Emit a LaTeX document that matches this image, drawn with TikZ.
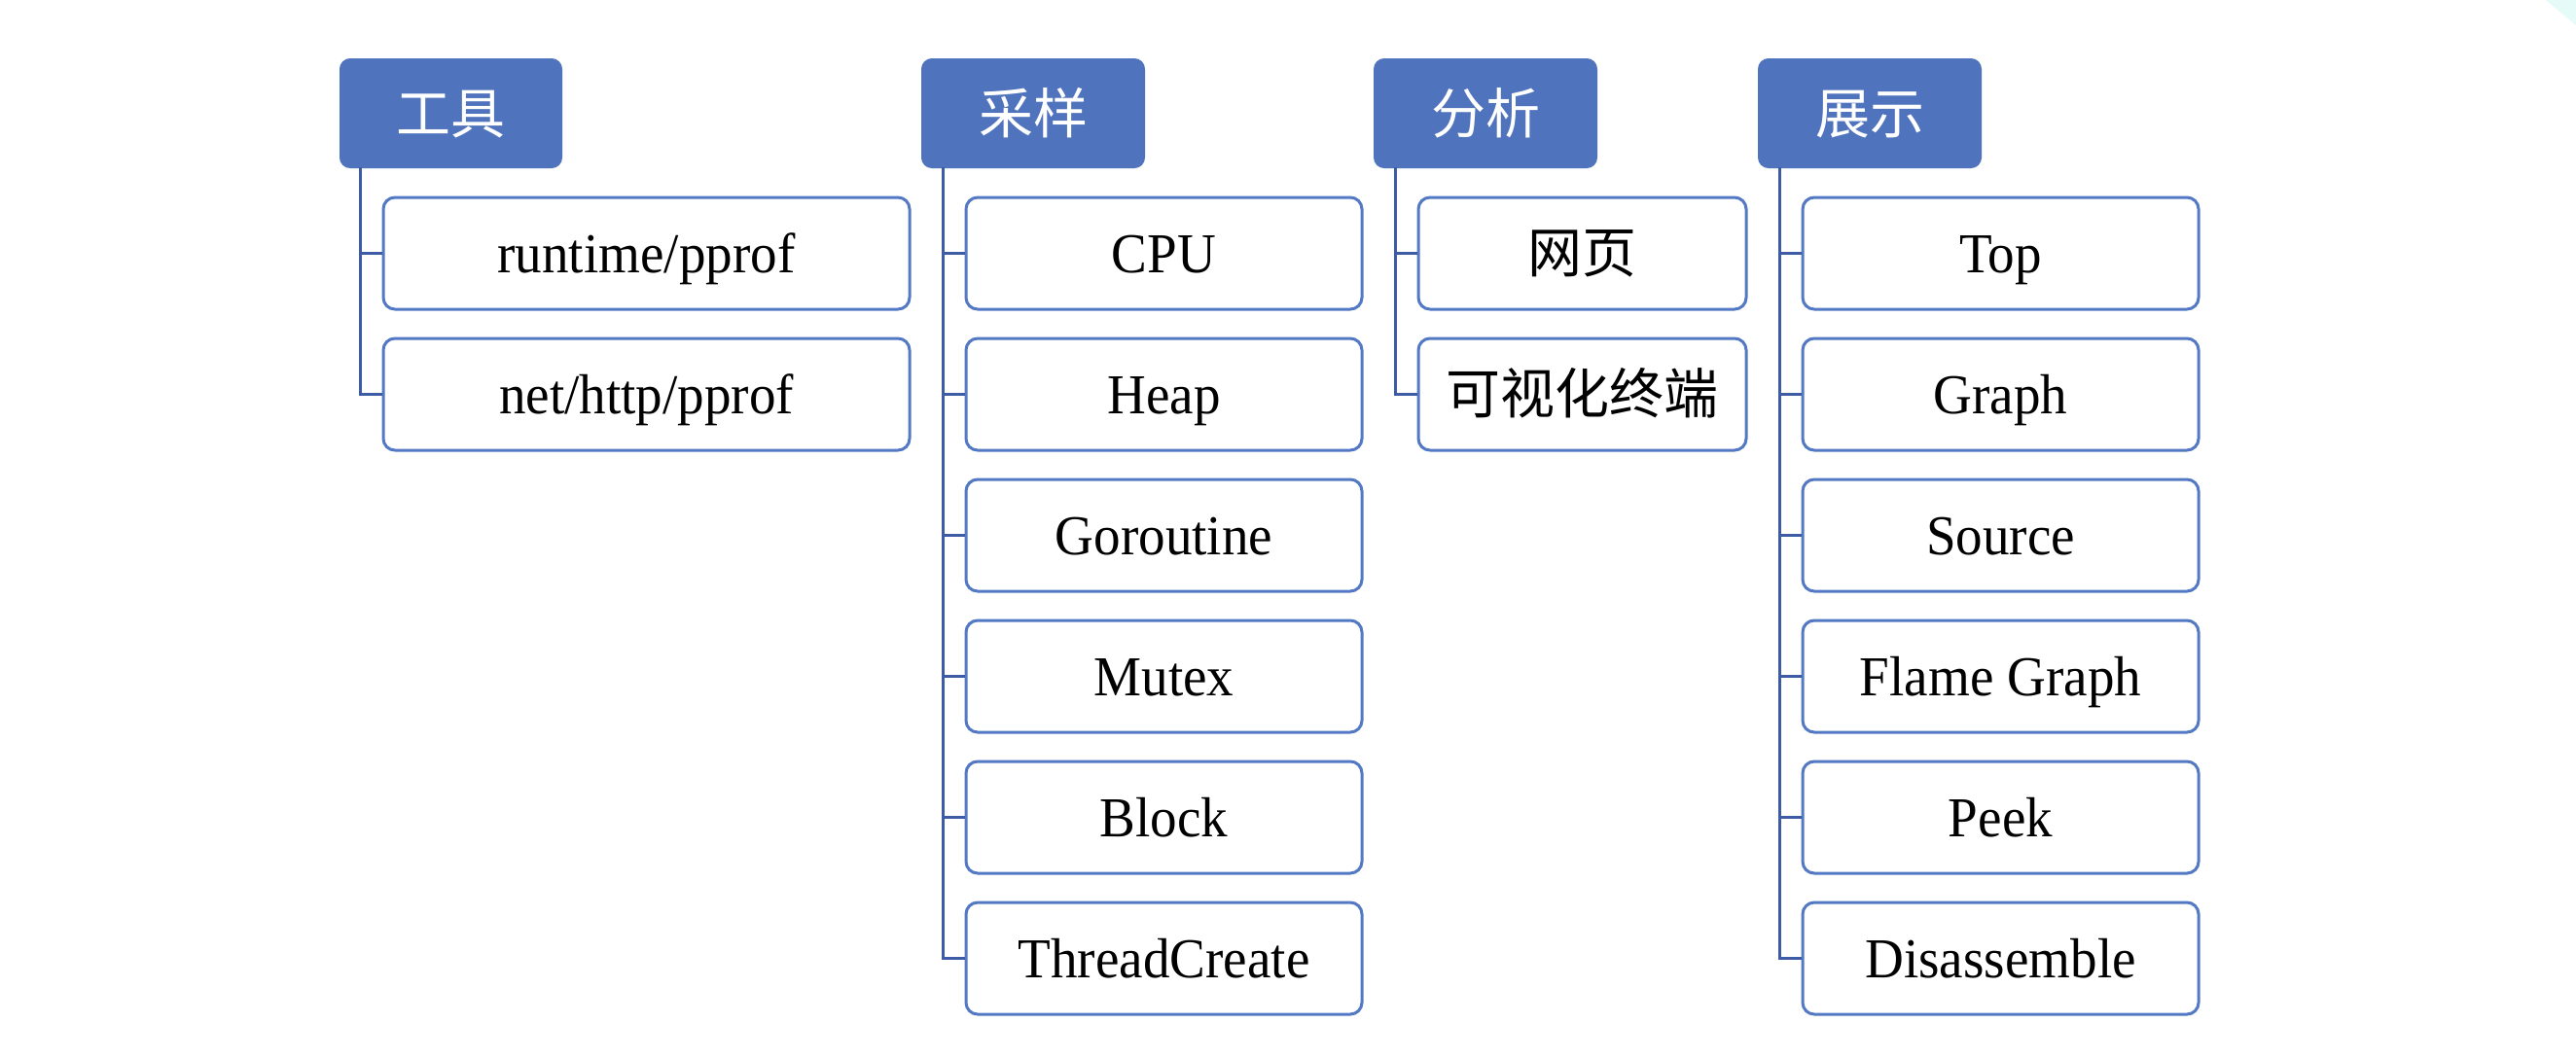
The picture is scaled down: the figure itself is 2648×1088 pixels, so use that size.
\documentclass[tikz,border=0pt]{standalone}
\usepackage{fontspec}
\setmainfont[FakeStretch=0.95]{Liberation Serif}
\newfontfamily\cjk{Noto Sans CJK SC}
\definecolor{hdrfill}{HTML}{4F73BD}
\definecolor{boxline}{HTML}{5479C4}
\definecolor{treeline}{HTML}{3E5CA5}
\definecolor{cornerfill}{HTML}{E4FBF8}
\begin{document}
\begin{tikzpicture}[x=0.5pt,y=-0.5pt,
  hdr/.style={draw=hdrfill, fill=hdrfill, rounded corners=5pt, line width=1pt,
    minimum height=55.5pt, minimum width=114pt, inner sep=0pt, text=white,
    font=\cjk\fontsize{28}{34}\selectfont, text height=20.5pt, text depth=0pt},
  leaf/.style={draw=boxline, fill=white, rounded corners=6pt, line width=1.5pt,
    minimum height=57.5pt, inner sep=0pt, font=\fontsize{29}{34}\selectfont,
    text height=20pt, text depth=0pt},
  zh/.style={font=\cjk\fontsize{28}{34}\selectfont},
  w1/.style={minimum width=270.5pt},
  w2/.style={minimum width=203.5pt},
  w3/.style={minimum width=168.5pt},
  tree/.style={draw=treeline, line width=1.5pt}]
\useasboundingbox (0,0) rectangle (2648,1088);
\fill[white] (0,0) rectangle (2648,1088);
\fill[cornerfill] (2617,0) -- (2648,0) -- (2648,26) -- cycle;

% headers
\node[hdr, minimum width=113.5pt] (h1) at (463.5,116.5) {工具};
\node[hdr] (h2) at (1062,116.5) {采样};
\node[hdr] (h3) at (1527,116.5) {分析};
\node[hdr] (h4) at (1922,116.5) {展示};

% column 1
\node[leaf,w1] (c11) at (664.5,260.5) {runtime/pprof};
\node[leaf,w1] (c12) at (664.5,405.5) {net/http/pprof};

% column 2
\node[leaf,w2] (c21) at (1196.5,260.5) {CPU};
\node[leaf,w2] (c22) at (1196.5,405.5) {Heap};
\node[leaf,w2] (c23) at (1196.5,550.5) {Goroutine};
\node[leaf,w2] (c24) at (1196.5,695.5) {Mutex};
\node[leaf,w2] (c25) at (1196.5,840.5) {Block};
\node[leaf,w2] (c26) at (1196.5,985.5) {ThreadCreate};

% column 3
\node[leaf,w3,zh] (c31) at (1626.5,260.5) {网页};
\node[leaf,w3,zh] (c32) at (1626.5,405.5) {可视化终端};

% column 4
\node[leaf,w2] (c41) at (2056.5,260.5) {Top};
\node[leaf,w2] (c42) at (2056.5,405.5) {Graph};
\node[leaf,w2] (c43) at (2056.5,550.5) {Source};
\node[leaf,w2] (c44) at (2056.5,695.5) {Flame Graph};
\node[leaf,w2] (c45) at (2056.5,840.5) {Peek};
\node[leaf,w2] (c46) at (2056.5,985.5) {Disassemble};

% trunks
\coordinate (t1) at (370.5,172);
\coordinate (t2) at (969,172);
\coordinate (t3) at (1434,172);
\coordinate (t4) at (1829,172);

\foreach \c in {c11,c12} \draw[tree] (t1) |- (\c.west);
\foreach \c in {c21,c22,c23,c24,c25,c26} \draw[tree] (t2) |- (\c.west);
\foreach \c in {c31,c32} \draw[tree] (t3) |- (\c.west);
\foreach \c in {c41,c42,c43,c44,c45,c46} \draw[tree] (t4) |- (\c.west);
\end{tikzpicture}
\end{document}
